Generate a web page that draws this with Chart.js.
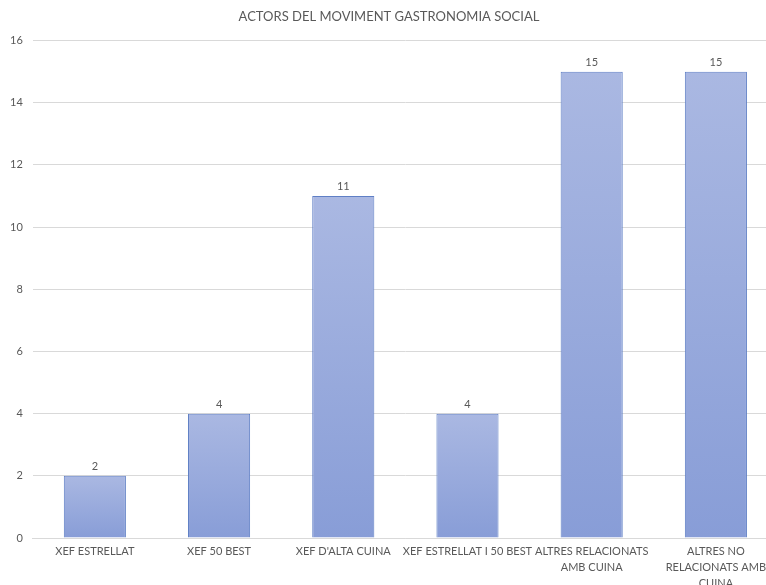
<!DOCTYPE html>
<html>
<head>
<meta charset="utf-8">
<script src="https://cdn.jsdelivr.net/npm/chart.js@4"></script>
<style>
    html, body { margin: 0; padding: 0; background: #fff; overflow: hidden; }
    #wrap { width: 790px; height: 588px; }
</style>
</head>
<body>
<div id="wrap"><canvas id="id_grafica"></canvas></div>
<script>
//------------------------DADES---------------------------
const categories = [
    'XEF ESTRELLAT',
    'XEF 50 BEST',
    "XEF D'ALTA CUINA",
    'XEF ESTRELLAT I 50 BEST',
    ['ALTRES RELACIONATS', 'AMB CUINA'],
    ['ALTRES NO', 'RELACIONATS AMB', 'CUINA']
];
const valors = [2, 4, 11, 4, 15, 15];
const titol = 'ACTORS DEL MOVIMENT GASTRONOMIA SOCIAL';

const textColor = '#595959';
const fontFamily = 'Lato, "Open Sans", sans-serif';

//gradient per barra: clar a dalt, fosc a baix
const barGradient = (context) => {
    const chart = context.chart;
    const area = chart.chartArea;
    if (!area || context.type !== 'data') return '#a3b3e0';
    const yScale = chart.scales.y;
    const top = yScale.getPixelForValue(context.parsed.y);
    const bottom = yScale.getPixelForValue(0);
    const g = chart.ctx.createLinearGradient(0, top, 0, bottom);
    g.addColorStop(0, '#aab8e2');
    g.addColorStop(1, '#889dd7');
    return g;
};

//etiquetes de valor sobre les barres
const etiquetesValor = {
    id: 'etiquetesValor',
    afterDatasetsDraw(chart) {
        const ctx = chart.ctx;
        ctx.save();
        ctx.font = '11px ' + fontFamily;
        ctx.fillStyle = textColor;
        ctx.textAlign = 'center';
        ctx.textBaseline = 'bottom';
        chart.getDatasetMeta(0).data.forEach((bar, i) => {
            ctx.fillText(valors[i], bar.x, bar.y - 4);
        });
        ctx.restore();
    }
};

const ctx1 = document.getElementById('id_grafica').getContext('2d');
const chart1 = new Chart(ctx1, {
    type: 'bar',
    data: {
        labels: categories,
        datasets: [{
            data: valors,
            backgroundColor: barGradient,
            borderColor: '#5f7fc5',
            borderWidth: 1,
            categoryPercentage: 1.0,
            barPercentage: 0.5
        }]
    },
    plugins: [etiquetesValor],
    options: {
        responsive: true,
        maintainAspectRatio: false,
        animation: false,
        layout: { padding: { left: 0, right: 12, top: 7, bottom: 0 } },
        plugins: {
            legend: { display: false },
            tooltip: { enabled: false },
            title: {
                display: true,
                text: titol,
                color: textColor,
                font: { family: fontFamily, size: 13, weight: 'normal' },
                padding: { top: 2, bottom: 16 }
            }
        },
        scales: {
            x: {
                grid: { display: false },
                border: { color: '#d9d9d9' },
                ticks: {
                    color: textColor,
                    font: { family: fontFamily, size: 11, lineHeight: '16px' },
                    maxRotation: 0,
                    autoSkip: false,
                    padding: -3
                }
            },
            y: {
                min: 0,
                max: 16,
                ticks: {
                    stepSize: 2,
                    color: textColor,
                    font: { family: fontFamily, size: 11 },
                    padding: 10
                },
                grid: { color: '#d9d9d9', drawTicks: false },
                border: { display: false }
            }
        }
    }
});
</script>
</body>
</html>
